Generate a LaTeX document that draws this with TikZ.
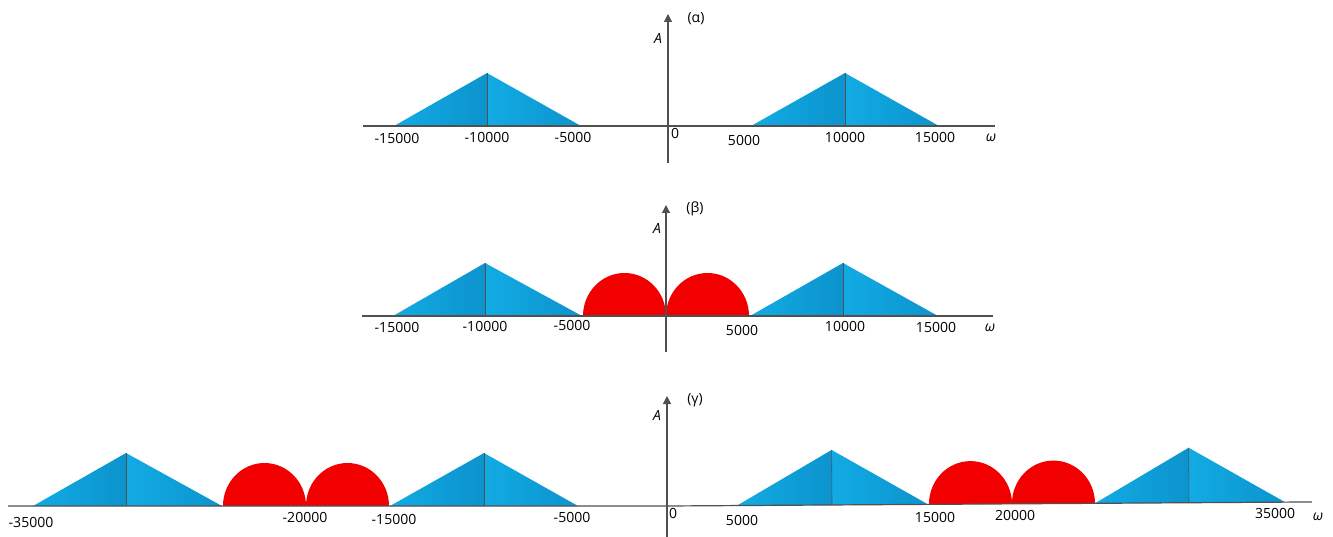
\documentclass[tikz,border=0pt]{standalone}
\usepackage{fontspec}
\setmainfont{Open Sans}
\usetikzlibrary{arrows.meta}

\definecolor{bandlight}{HTML}{12ABE4}
\definecolor{banddark}{HTML}{0C93CD}
\definecolor{lobered}{HTML}{F20000}
\definecolor{axisgray}{HTML}{505050}

% one triangular band: left x, peak x, right x, base y, peak y
\newcommand{\bandtri}[5]{%
  \shade[half] (#1,#4) -- (#2,#5) -- (#2,#4) -- cycle;
  \shade[half] (#2,#4) -- (#2,#5) -- (#3,#4) -- cycle;
  \draw[ridge] (#2,#5) -- (#2,#4);}
% one red half disc: left x, base y
\newcommand{\halfdisc}[2]{%
  \fill[lobe] (#1,#2) arc[start angle=180,end angle=0,x radius=41.5pt,y radius=43pt] -- cycle;}

\begin{document}
\begin{tikzpicture}[
    x=1pt,y=-1pt,
    axis/.style={draw=axisgray,line width=1.2pt},
    yaxis/.style={axis,-{Triangle[length=8pt,width=8pt]}},
    half/.style={left color=bandlight,right color=banddark},
    ridge/.style={draw=axisgray,line width=.6pt},
    lobe/.style={fill=lobered},
    lbl/.style={font=\fontsize{14}{16}\selectfont,inner sep=0pt},
    var/.style={font=\fontsize{14}{16}\selectfont\itshape,inner sep=0pt}
  ]
    \useasboundingbox (0,0) rectangle (1333,537);

    % (alpha)
    \foreach \l/\p/\r in {394/487/581,751/845/939}
      {\bandtri{\l}{\p}{\r}{126}{73}}
    \coordinate (aW) at (363,126);
    \coordinate (aE) at (995,126);
    \coordinate (aS) at (668,163);
    \coordinate (aN) at (668,14);
    \draw[axis] (aW) -- (aE);
    \draw[yaxis] (aS) -- (aN);
    \node[lbl] (atag) at (696,19) {(α)};
    \node[var] (aamp) at (658,39) {A};
    \node[var] (aomega) at (991,138) {ω};
    \node[lbl] (am15) at (397,138) {-15000};
    \node[lbl] (am10) at (487,137) {-10000};
    \node[lbl] (am5) at (573,137) {-5000};
    \node[lbl] (azero) at (675,133) {0};
    \node[lbl] (ap5) at (744,140) {5000};
    \node[lbl] (ap10) at (845,137) {10000};
    \node[lbl] (ap15) at (935,137) {15000};

    % (beta)
    \foreach \l/\p/\r in {393/485/582,750/843/938}
      {\bandtri{\l}{\p}{\r}{316}{263}}
    \foreach \l in {583,666}
      {\halfdisc{\l}{316}}
    \coordinate (bW) at (362,316);
    \coordinate (bE) at (993,316);
    \coordinate (bS) at (666,352);
    \coordinate (bN) at (666,205);
    \draw[axis] (bW) -- (bE);
    \draw[yaxis] (bS) -- (bN);
    \node[lbl] (btag) at (695,209) {(β)};
    \node[var] (bamp) at (657,229) {A};
    \node[var] (bomega) at (990,328) {ω};
    \node[lbl] (bm15) at (397,327) {-15000};
    \node[lbl] (bm10) at (485,326) {-10000};
    \node[lbl] (bm5) at (572,325) {-5000};
    \node[lbl] (bp5) at (742,330) {5000};
    \node[lbl] (bp10) at (845,326) {10000};
    \node[lbl] (bp15) at (936,327) {15000};

    % (gamma)
    \foreach \l/\p/\r in {33/126/222,390/484/578}
      {\bandtri{\l}{\p}{\r}{506}{453}}
    \foreach \l in {223,306}
      {\halfdisc{\l}{506}}
    \begin{scope}[rotate around={0.36:(667,506)}]
      \foreach \l/\p/\r in {737/832/928,1095/1189/1285}
        {\bandtri{\l}{\p}{\r}{506}{451}}
      \foreach \l in {929,1012}
        {\halfdisc{\l}{506}}
      \coordinate (gE) at (1312,506);
    \end{scope}
    \coordinate (gW) at (8,506);
    \coordinate (gO) at (667,506);
    \coordinate (gS) at (667,537);
    \coordinate (gN) at (667,396);
    \draw[axis] (gW) -- (gO) -- (gE);
    \draw[yaxis] (gS) -- (gN);
    \node[lbl] (gtag) at (695,400) {(γ)};
    \node[var] (gamp) at (657,416) {A};
    \node[var] (gomega) at (1318,517) {ω};
    \node[lbl] (gm35) at (31,522) {-35000};
    \node[lbl] (gm20) at (305,517) {-20000};
    \node[lbl] (gm15) at (394,519) {-15000};
    \node[lbl] (gm5) at (572,517) {-5000};
    \node[lbl] (gzero) at (673,513) {0};
    \node[lbl] (gp5) at (742,520) {5000};
    \node[lbl] (gp15) at (935,517) {15000};
    \node[lbl] (gp20) at (1015,515) {20000};
    \node[lbl] (gp35) at (1275,513) {35000};
  \end{tikzpicture}
\end{document}
